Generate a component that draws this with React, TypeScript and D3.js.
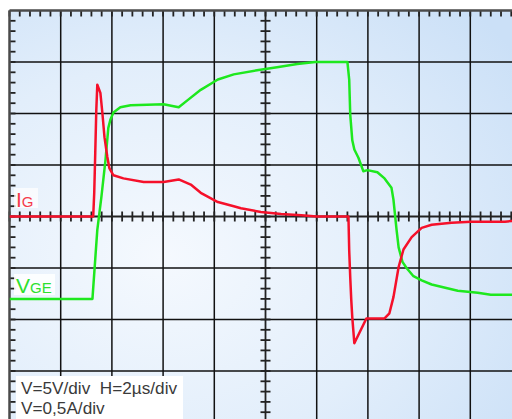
import * as d3 from "d3";

// time axis in µs (H = 2µs/div), VGE in V (5V/div), IG in A (0.5A/div)
const vgeTime = [0, 3.24, 3.43, 3.59, 3.75, 3.86, 3.94, 4.06, 4.33, 4.73, 6.02, 6.41, 6.61, 6.96, 7.47, 8.14, 8.76, 9.67, 10.45, 11.24, 11.94, 13.2, 13.27, 13.31, 13.39, 13.47, 13.63, 13.82, 13.98, 14.37, 14.65, 14.92, 15.0, 15.12, 15.2, 15.35, 15.51, 15.78, 16.1, 16.49, 17.51, 18.29, 18.8, 19.71, 20];
const vgeValues = [-8, -8, -1.3, 1.9, 5.5, 8.6, 9.4, 10.1, 10.6, 10.8, 10.9, 10.7, 10.6, 11.3, 12.3, 13.3, 13.8, 14.2, 14.5, 14.8, 15.0, 15.0, 13.3, 9.9, 7.4, 6.5, 5.7, 4.4, 4.5, 4.3, 3.7, 2.8, 1.6, -1.3, -3.0, -4.4, -5.0, -5.8, -6.2, -6.6, -7.2, -7.4, -7.6, -7.6, -7.6];

const igTime = [0, 3.27, 3.31, 3.35, 3.39, 3.43, 3.55, 3.63, 3.71, 3.82, 3.9, 4.06, 4.45, 5.24, 6.02, 6.61, 7.08, 7.47, 8.14, 8.76, 9.04, 9.82, 10.61, 11.4, 12.0, 13.24, 13.27, 13.31, 13.35, 13.39, 13.47, 13.94, 14.65, 14.84, 15.0, 15.2, 15.39, 15.71, 16.1, 16.49, 17.27, 18.02, 19.35, 20];
const igValues = [0, 0, 0.23, 0.62, 1.03, 1.28, 1.2, 1.0, 0.77, 0.58, 0.47, 0.4, 0.37, 0.335, 0.335, 0.36, 0.31, 0.23, 0.14, 0.1, 0.08, 0.044, 0.024, 0.012, 0, 0, -0.33, -0.59, -0.81, -0.98, -1.23, -0.99, -0.99, -0.94, -0.78, -0.49, -0.32, -0.2, -0.11, -0.08, -0.06, -0.05, -0.05, -0.035];

const voltsPerDiv = 5;
const ampsPerDiv = 0.5;
const scaleLines = ["V=5V/div  H=2µs/div", "V=0,5A/div"];

export default function App() {
  const W = 512, H = 419;
  const x0 = 9.5, y0 = 10.5, div = 51.2, divY = 51.5;

  const x = d3.scaleLinear().domain([0, 20]).range([x0, x0 + 10 * div]);
  const y = d3.scaleLinear().domain([-4, 4]).range([y0 + 8 * divY, y0]);

  const vge = vgeTime.map((t, i) => [t, vgeValues[i] / voltsPerDiv] as [number, number]);
  const ig = igTime.map((t, i) => [t, igValues[i] / ampsPerDiv] as [number, number]);
  const line = d3.line<[number, number]>().x(d => x(d[0])).y(d => y(d[1]));

  const majorX = d3.range(1, 10).map(d => d * 2);
  const majorY = d3.range(-3, 4);
  const minorX = d3.range(0, 50).map(d => d * 0.4);
  const minorY = d3.range(-20, 20).map(d => d * 0.2);

  const left = x(0), top = y(4), right = x(20), bottom = y(-4);
  const cx = x(10), cy = y(0);

  return (
    <svg width={W} height={H} style={{ position: "absolute", left: 0, top: 0, display: "block" }}>
      <defs>
        <radialGradient id="bg" cx="0.3" cy="0.6" r="0.85">
          <stop offset="0" stopColor="#f5f9fe" />
          <stop offset="0.55" stopColor="#e2eefb" />
          <stop offset="1" stopColor="#cbe0f7" />
        </radialGradient>
        <clipPath id="plot">
          <rect x={left} y={top} width={right - left} height={bottom - top} />
        </clipPath>
      </defs>
      <rect width={W} height={H} fill="#fff" />
      {/* title above the frame, cut by the picture's top edge */}
      <text x={10} y={-4} fontSize={20} fontFamily="Liberation Sans" fill="#000">g</text>
      <text x={233} y={-4} fontSize={20} fontFamily="Liberation Sans" fill="#000">g</text>
      <rect x={left} y={top} width={right - left} height={bottom - top} fill="url(#bg)" />

      <g stroke="#111" strokeWidth={1.5}>
        {majorX.filter(t => t !== 10).map(t => (
          <line key={"gx" + t} x1={x(t)} x2={x(t)} y1={top} y2={bottom} />
        ))}
        {majorY.filter(v => v !== 0).map(v => (
          <line key={"gy" + v} x1={left} x2={right} y1={y(v)} y2={y(v)} />
        ))}
      </g>
      {/* centre axes with crossing ticks */}
      <g stroke="#222">
        <line x1={cx} x2={cx} y1={top} y2={bottom} strokeWidth={1.8} />
        <line x1={left} x2={right} y1={cy} y2={cy} strokeWidth={1.8} />
        {minorX.map(t => (
          <line key={"cx" + t} x1={x(t)} x2={x(t)} y1={cy - 5} y2={cy + 5} strokeWidth={1.8} />
        ))}
        {minorY.map(v => (
          <line key={"cy" + v} x1={cx - 5} x2={cx + 5} y1={y(v)} y2={y(v)} strokeWidth={1.8} />
        ))}
      </g>
      {/* border ticks */}
      <g stroke="#222" strokeWidth={1.8}>
        {minorX.map(t => (
          <line key={"tx" + t} x1={x(t)} x2={x(t)} y1={top} y2={top + 6} />
        ))}
        {minorY.map(v => (
          <line key={"ly" + v} x1={left} x2={left + 6} y1={y(v)} y2={y(v)} />
        ))}
      </g>
      <line x1={left} x2={right} y1={top} y2={top} stroke="#4a4a4a" strokeWidth={2.5} />
      <line x1={left} x2={left} y1={top} y2={bottom} stroke="#4a4a4a" strokeWidth={2.5} />

      <g clipPath="url(#plot)" fill="none" strokeWidth={2.5} strokeLinejoin="round">
        <path d={line(vge) ?? ""} stroke="#1ee81e" />
        <path d={line(ig) ?? ""} stroke="#f5102a" />
      </g>

      <rect x={14} y={188} width={24} height={20} fill="#fff" opacity={0.7} />
      <text y={207} fontFamily="Liberation Sans" fill="#f53a4a">
        <tspan x={16} fontSize={21}>I</tspan>
        <tspan fontSize={15}>G</tspan>
      </text>
      <rect x={14} y={274} width={41} height={21} fill="#fff" opacity={0.85} />
      <text y={293} fontFamily="Liberation Sans" fill="#2ee02e">
        <tspan x={16} fontSize={21}>V</tspan>
        <tspan fontSize={15}>GE</tspan>
      </text>

      <rect x={16} y={376} width={167} height={H - 376} fill="#fff" />
      {scaleLines.map((s, i) => (
        <text key={s} x={21} y={394 + i * 20} fontSize={17.2} fontFamily="Liberation Sans" fill="#3a3a3a" xmlSpace="preserve">
          {s}
        </text>
      ))}
    </svg>
  );
}
